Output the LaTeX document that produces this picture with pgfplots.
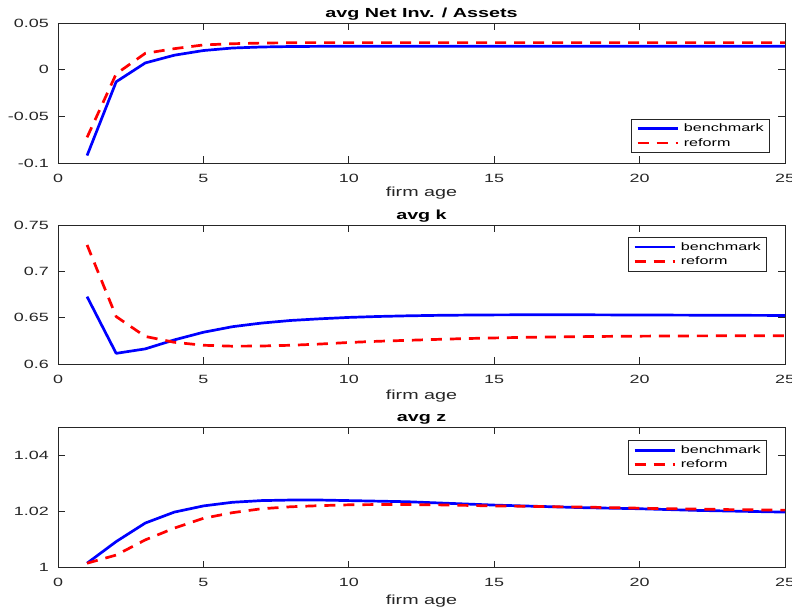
\documentclass[border=0pt]{standalone}
\usepackage{fontspec}
\setmainfont{Liberation Sans}[FakeStretch=1.5]
\usepackage{pgfplots}
\pgfplotsset{compat=1.18}
\definecolor{axgray}{gray}{0.15}
\pgfplotsset{
  mlstyle/.style={
    scale only axis, width=727bp,
    xmin=0, xmax=25, xtick={0,5,10,15,20,25},
    /pgf/number format/assume math mode=true,
    tick align=inside, major tick length=7bp,
    axis line style={draw=axgray, line width=0.8bp},
    every tick/.style={draw=axgray, line width=0.8bp},
    tick label style={font=\fontsize{12}{14}\selectfont, text=axgray, inner sep=0pt},
    xticklabel style={anchor=base, yshift=-19bp},
    yticklabel style={anchor=east, xshift=-9bp},
    scaled y ticks=false,
    xlabel={firm age},
    xlabel style={font=\fontsize{13.2}{15}\selectfont, text=axgray, at={(axis description cs:0.5,0)}, anchor=base, inner sep=0pt},
    title style={font=\bfseries\fontsize{13.2}{15}\selectfont, at={(axis description cs:0.5,1)}, anchor=base, yshift=0bp, inner sep=0pt},
    legend style={font=\fontsize{10.8}{13}\selectfont, draw=axgray, line width=0.6bp, fill=white,
      inner xsep=4.5bp, inner ysep=3.5bp, row sep=2bp, nodes={inner sep=1.5bp},
      /tikz/every odd column/.append style={column sep=3.5bp}},
    legend cell align=left,
    legend image code/.code={\draw[#1] (0bp,0bp) -- (40bp,0bp);},
    bm/.style={blue, line width=2.7bp, line join=round},
    rf/.style={red, line width=2.7bp, line join=round, dash pattern=on 11bp off 8bp},
  }
}
\begin{document}
\begin{tikzpicture}
% top
\begin{axis}[mlstyle, at={(58bp,-163bp)}, anchor=south west, height=140bp,
  ymin=-0.1, ymax=0.05, ytick={-0.1,-0.05,0,0.05}, yticklabels={-0.1,-0.05,0,0.05},
  title={avg Net Inv. / Assets},
  xlabel style={yshift=-33bp},
  legend style={at={(rel axis cs:1,0)}, anchor=south east, xshift=-15bp, yshift=10bp}]
\addplot[bm] coordinates {(1,-0.092)(2,-0.013)(3,0.0072)(4,0.0155)(5,0.0205)(6,0.0232)(7,0.0243)(8,0.0248)(9,0.025)(10,0.025)(11,0.025)(12,0.025)(13,0.025)(14,0.025)(15,0.025)(16,0.025)(17,0.025)(18,0.025)(19,0.025)(20,0.025)(21,0.025)(22,0.025)(23,0.025)(24,0.025)(25,0.025)};
\addplot[rf] coordinates {(1,-0.0725)(2,-0.0045)(3,0.0175)(4,0.0225)(5,0.0265)(6,0.0278)(7,0.0285)(8,0.0289)(9,0.029)(10,0.029)(11,0.029)(12,0.029)(13,0.029)(14,0.029)(15,0.029)(16,0.029)(17,0.029)(18,0.029)(19,0.029)(20,0.029)(21,0.029)(22,0.029)(23,0.029)(24,0.029)(25,0.029)};
\legend{benchmark,reform}
\end{axis}
% middle
\begin{axis}[mlstyle, at={(58bp,-364.3bp)}, anchor=south west, height=139.3bp,
  ymin=0.6, ymax=0.75, ytick={0.6,0.65,0.7,0.75}, yticklabels={0.6,0.65,0.7,0.75},
  title={avg k},
  xlabel style={yshift=-35.5bp},
  legend style={at={(rel axis cs:1,1)}, anchor=north east, xshift=-18bp, yshift=-12bp}]
\addplot[bm] coordinates {(1,0.6728)(2,0.6118)(3,0.6166)(4,0.6263)(5,0.6345)(6,0.6405)(7,0.6444)(8,0.6472)(9,0.649)(10,0.6505)(11,0.6515)(12,0.6522)(13,0.6527)(14,0.653)(15,0.6532)(16,0.6533)(17,0.6533)(18,0.6533)(19,0.6532)(20,0.6531)(21,0.653)(22,0.6529)(23,0.6528)(24,0.6527)(25,0.6526)};
\addplot[rf] coordinates {(1,0.7285)(2,0.6514)(3,0.630)(4,0.6237)(5,0.6205)(6,0.6195)(7,0.6197)(8,0.6205)(9,0.6218)(10,0.6235)(11,0.6248)(12,0.6258)(13,0.6268)(14,0.6277)(15,0.6284)(16,0.629)(17,0.6294)(18,0.6298)(19,0.6301)(20,0.6303)(21,0.6305)(22,0.6306)(23,0.6307)(24,0.6308)(25,0.6308)};
\legend{benchmark,reform}
\end{axis}
% bottom
\begin{axis}[mlstyle, at={(58bp,-567.7bp)}, anchor=south west, height=140.4bp,
  ymin=1, ymax=1.05, ytick={1,1.02,1.04}, yticklabels={1,1.02,1.04},
  title={avg z},
  xlabel style={yshift=-37bp},
  legend style={at={(rel axis cs:1,1)}, anchor=north east, xshift=-18bp, yshift=-13bp}]
\addplot[bm] coordinates {(1,1.0016)(2,1.0093)(3,1.0159)(4,1.0198)(5,1.022)(6,1.0233)(7,1.0239)(8,1.0241)(9,1.0241)(10,1.0239)(11,1.0237)(12,1.0235)(13,1.0231)(14,1.0227)(15,1.0223)(16,1.022)(17,1.0217)(18,1.0214)(19,1.0212)(20,1.021)(21,1.0207)(22,1.0204)(23,1.0202)(24,1.02)(25,1.0198)};
\addplot[rf] coordinates {(1,1.0016)(2,1.0045)(3,1.0099)(4,1.0141)(5,1.0176)(6,1.0196)(7,1.021)(8,1.0217)(9,1.0221)(10,1.0224)(11,1.0225)(12,1.0225)(13,1.0224)(14,1.0222)(15,1.022)(16,1.0219)(17,1.0217)(18,1.0216)(19,1.0214)(20,1.0212)(21,1.021)(22,1.0209)(23,1.0207)(24,1.0206)(25,1.0205)};
\legend{benchmark,reform}
\end{axis}
\pgfresetboundingbox
\path[use as bounding box] (0bp,0bp) rectangle (792bp,-611bp);
\end{tikzpicture}
\end{document}
